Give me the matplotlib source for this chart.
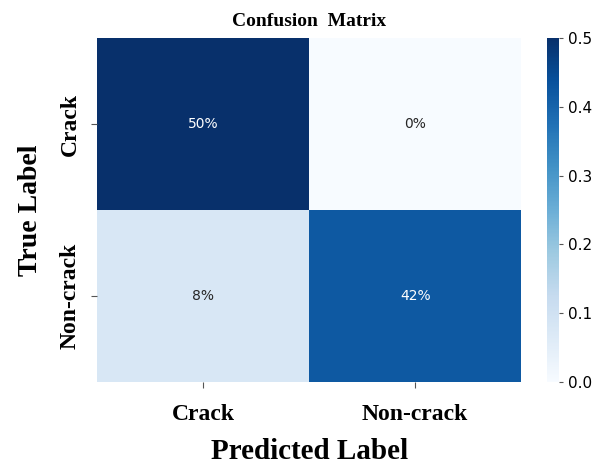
import numpy as np
import matplotlib
matplotlib.use("Agg")
import matplotlib.pyplot as plt
import seaborn as sns

classes = ["Crack", "Non-crack"]
rates = np.array([[0.50, 0.00],
                  [0.08, 0.42]])
cell_text = [["50%", "0%"],
             ["8%", "42%"]]

fig = plt.figure(figsize=(6.11, 4.70), dpi=100)
ax = fig.add_axes([0.159, 0.187, 0.694, 0.732])
cax = fig.add_axes([0.895, 0.187, 0.02, 0.732])

sns.heatmap(rates, ax=ax, cbar_ax=cax, cmap="Blues", vmin=0, vmax=0.5,
            annot=np.array(cell_text), fmt="", annot_kws={"fontsize": 10},
            xticklabels=classes, yticklabels=classes)

serif = ["Liberation Serif", "DejaVu Serif"]
ax.set_xticklabels(classes, fontfamily=serif, fontweight="bold", fontsize=17)
ax.set_yticklabels(classes, fontfamily=serif, fontweight="bold", fontsize=17,
                   rotation=90, va="center")
ax.tick_params(axis="x", pad=12, length=4, color="#555555")
ax.tick_params(axis="y", pad=8, length=4, color="#555555")
ax.set_xlabel("Predicted Label", fontfamily=serif, fontweight="bold",
              fontsize=21, labelpad=9)
ax.set_ylabel("True Label", fontfamily=serif, fontweight="bold",
              fontsize=20, labelpad=12)
ax.set_title("Confusion  Matrix", fontfamily=serif, fontweight="bold",
             fontsize=14, pad=9)

cax.tick_params(labelsize=11, length=3, color="#555555")
cax.set_yticks([0.0, 0.1, 0.2, 0.3, 0.4, 0.5])

fig.savefig("out.png", dpi=100)
